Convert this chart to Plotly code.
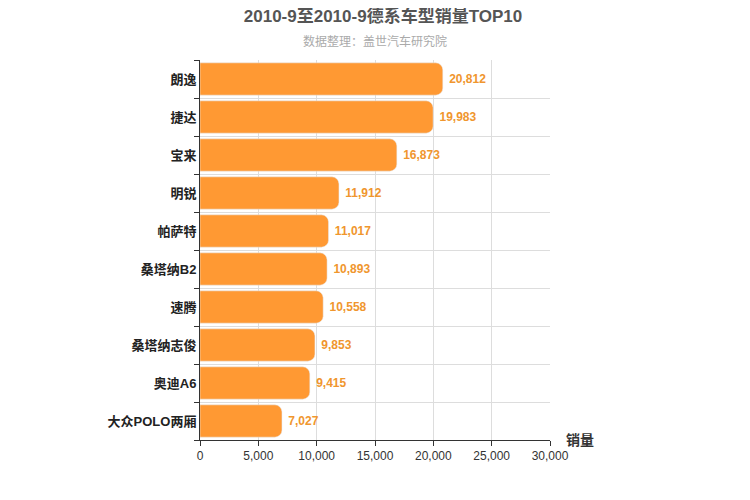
import plotly.graph_objects as go

models = ["朗逸", "捷达", "宝来", "明锐", "帕萨特", "桑塔纳B2", "速腾", "桑塔纳志俊", "奥迪A6", "大众POLO两厢"]
sales = [20812, 19983, 16873, 11912, 11017, 10893, 10558, 9853, 9415, 7027]

fig = go.Figure(go.Bar(
    x=sales, y=models, orientation="h",
    marker=dict(color="#FF9933", cornerradius=7),
    width=0.85,
    text=[f"<b> {v:,}</b>" for v in sales], textposition="outside",
    textfont=dict(color="#F0962E", size=12, family="Liberation Sans, Noto Sans CJK SC"),
    cliponaxis=False,
))

fig.update_layout(
    width=750, height=500,
    margin=dict(l=192, r=208, t=52, b=68, autoexpand=False),
    plot_bgcolor="white", paper_bgcolor="white",
    font=dict(family="Liberation Sans, Noto Sans CJK SC", color="#333"),
    title=dict(text="<b>2010-9至2010-9德系车型销量TOP10</b>", x=0.5, y=0.995, yanchor="top",
               xanchor="center", font=dict(size=17, color="#555")),
    showlegend=False,
    bargap=0.15,
)
fig.add_annotation(text="数据整理：盖世汽车研究院", x=0.5, y=1.075, xref="paper", yref="paper",
                   showarrow=False, font=dict(size=12, color="#aaa"))
fig.add_annotation(text="<b>销量</b>", x=1.04, y=0.0, xref="paper", yref="paper", xanchor="left",
                   yanchor="middle", showarrow=False, font=dict(size=14, color="#333"))

fig.update_xaxes(range=[0, 30000], dtick=5000, tickformat=",", showgrid=True, gridcolor="#ddd",
                 showline=True, linecolor="#333", ticks="outside", tickcolor="#333", automargin=False,
                 tickfont=dict(size=12, color="#333"), zeroline=False)
fig.update_yaxes(autorange="reversed", tickson="boundaries", showgrid=True, gridcolor="#ddd",
                 showline=True, linecolor="#333", ticks="outside", tickcolor="#333", automargin=False,
                 tickfont=dict(size=13, color="#222"), ticksuffix="  ",
                 tickvals=models, ticktext=[f"<b>{m}</b>" for m in models])

fig.write_html("out.html")
